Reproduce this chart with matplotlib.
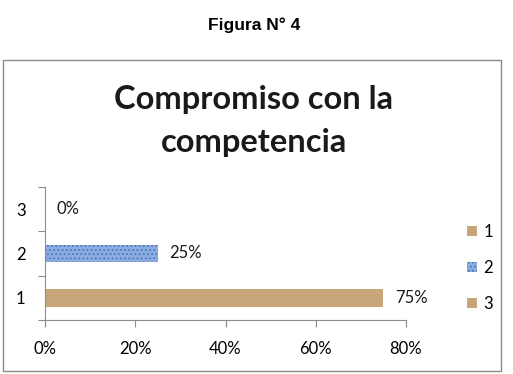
import matplotlib
matplotlib.use("Agg")
from matplotlib import pyplot as plt
from matplotlib.patches import Rectangle, Patch

# data
categories = ['1', '2', '3']
values = [0.75, 0.25, 0.0]
labels = ['75%', '25%', '0%']
xticks = [0.0, 0.2, 0.4, 0.6, 0.8]
xticklabels = ['0%', '20%', '40%', '60%', '80%']

TAN = '#C8A67A'
BLUE = '#8CADE0'
colors = [TAN, BLUE, TAN]
hatches = ['', '....', '']
hatch_cols = ['#A88756', '#4C74BC', '#A88756']

plt.rcParams['font.family'] = ['Lato', 'DejaVu Sans']
plt.rcParams['hatch.linewidth'] = 0.8

fig = plt.figure(figsize=(5.13, 3.74), dpi=100, facecolor='w')

# outer chart frame
fig.patches.append(Rectangle((3 / 513, 1 - 371 / 374), 498 / 513, 311 / 374,
                             transform=fig.transFigure, fill=False,
                             edgecolor='#8C8C8C', lw=1.0))

fig.text(254 / 513, 1 - 25 / 374, 'Figura N° 4', ha='center', va='center',
         fontsize=12.5, fontweight='bold', family='Liberation Sans')
fig.text(254 / 513, 1 - 121 / 374, 'Compromiso con la\ncompetencia',
         ha='center', va='center', fontsize=23.5, fontweight='bold',
         color='#1a1a1a', linespacing=1.55)

ax = fig.add_axes([45 / 513, 1 - 320 / 374, 361 / 513, 133 / 374])
ypos = [1, 2, 3]
for y, v, c, h, hc in zip(ypos, values, colors, hatches, hatch_cols):
    ax.barh(y, v, height=0.4, color=c, hatch=h, edgecolor=hc, lw=0)
for y, v, t in zip(ypos, values, labels):
    ax.text(v + 0.025, y, t, va='center', ha='left', fontsize=12, color='#1a1a1a')

ax.set_xlim(0, 0.8)
ax.set_ylim(0.5, 3.5)
ax.set_xticks(xticks)
ax.set_xticklabels(xticklabels, fontsize=12)
ax.set_yticks([0.5, 1.5, 2.5, 3.5])
ax.set_yticklabels([])
ax.set_yticks(ypos, minor=True)
ax.set_yticklabels(categories, minor=True, fontsize=12)
ax.tick_params(axis='y', which='minor', length=0, pad=14)
ax.tick_params(axis='y', which='major', length=5, color='#8C8C8C')
ax.tick_params(axis='x', length=5, color='#8C8C8C', pad=10)
for s in ['top', 'right']:
    ax.spines[s].set_visible(False)
for s in ['left', 'bottom']:
    ax.spines[s].set_color('#8C8C8C')

handles = [Patch(facecolor=c, hatch=h, edgecolor=hc, lw=0)
           for c, h, hc in zip(colors, hatches, hatch_cols)]
fig.legend(handles, categories, loc='center left',
           bbox_to_anchor=(452 / 513, 1 - 268 / 374), frameon=False,
           fontsize=12, handlelength=0.6, handleheight=0.6,
           handletextpad=0.4, labelspacing=1.2)

fig.savefig('out.png', dpi=100, facecolor='w')
